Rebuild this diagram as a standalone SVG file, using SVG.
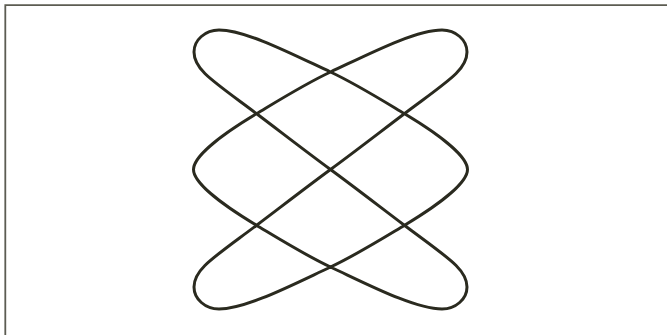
<svg xmlns="http://www.w3.org/2000/svg" width="667" height="335" viewBox="0 0 667 335">
  <style>
    .frame { fill: none; stroke: #5c5c52; stroke-width: 1.8; }
    .curve { fill: none; stroke: #2a2a1f; stroke-width: 3; stroke-linejoin: round; stroke-linecap: round; }
  </style>
  <rect x="0" y="0" width="667" height="335" fill="#ffffff"/>
  <g id="frame">
    <path class="frame" d="M5.3 335 V5.2 H667"/>
  </g>
  <g id="lissajous">
    <path class="curve" d="M330.5 169.5
      C355 151.5 379.5 132.5 404 114
      C448 81 467 70 467 52
      C467 40 455.8 30 442 30
      C415 30 368 54.5 330.5 72
      C306 83.4 281 99 256 114
      C218.5 136.5 193.5 157 193.5 169.5
      C193.5 182 218.5 202.5 256 225
      C281 240 306 255.6 330.5 267
      C368 284.5 415 309 442 309
      C455.8 309 467 299 467 287
      C467 269 448 258 404 225
      C379.5 206.5 355 187.5 330.5 169.5
      C306 151.5 281.5 132.5 257 114
      C213 81 194 70 194 52
      C194 40 205.2 30 219 30
      C246 30 293 54.5 330.5 72
      C355 83.4 380 99 405 114
      C442.5 136.5 467.5 157 467.5 169.5
      C467.5 182 442.5 202.5 405 225
      C380 240 355 255.6 330.5 267
      C293 284.5 246 309 219 309
      C205.2 309 194 299 194 287
      C194 269 213 258 257 225
      C281.5 206.5 306 187.5 330.5 169.5 Z"/>
  </g>
</svg>
